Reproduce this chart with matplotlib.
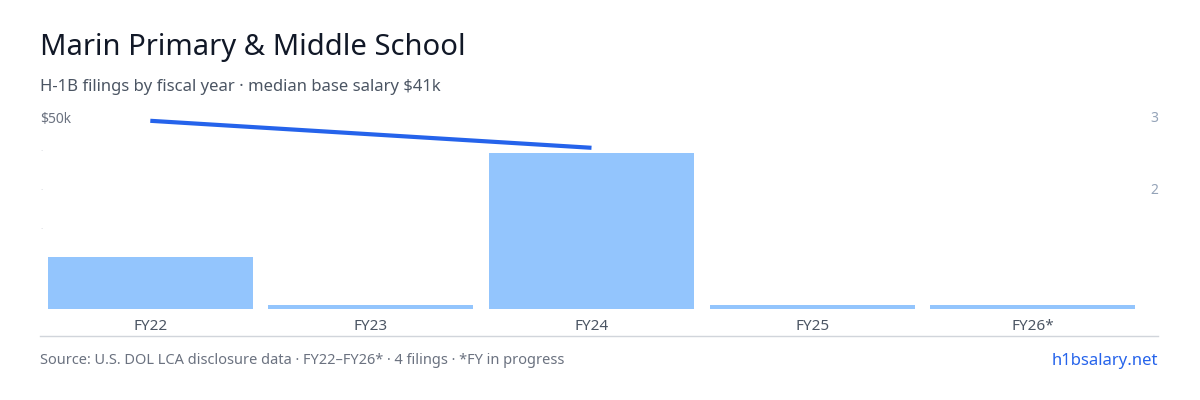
import matplotlib
matplotlib.use("Agg")
import matplotlib.pyplot as plt

years = ["FY22", "FY23", "FY24", "FY25", "FY26*"]
filings = [1, 0, 3, 0, 0]
salary_x = ["FY22", "FY24"]
salary_k = [49.5, 42.0]

W, H = 1200, 400
fig = plt.figure(figsize=(12, 4), dpi=100)
plt.rcParams['font.family'] = ['Noto Sans', 'DejaVu Sans']

def fx(px): return px / W
def fy(py): return 1 - py / H

# bar axes: 0 at y=309, 52 px per filing
top_px = 100
ax = fig.add_axes([fx(40), fy(309), fx(1143 - 40), (309 - top_px) / H])
ymax = (309 - top_px) / 52
xs = list(range(len(years)))
vals = [v if v > 0 else 0.08 for v in filings]
ax.bar(xs, vals, width=0.93, color="#93c5fd")
ax.set_xlim(-0.5 + 0.0, len(years) - 0.5)
ax.set_ylim(0, ymax)
for s in ax.spines.values():
    s.set_visible(False)
ax.set_xticks([])
ax.set_yticks([])

# salary line on twin axis
ax2 = ax.twinx()
ax2.set_ylim(50 - (119 - top_px) / 3.6 - 0, 50 + (119 - top_px) / 3.6)
lo = 50 - (309 - 119) / 3.6
hi = 50 + (119 - top_px) / 3.6
ax2.set_ylim(lo, hi)
ax2.plot([years.index(s) for s in salary_x], salary_k, color="#2563eb", lw=3, solid_capstyle="butt")
ax2.axis("off")

# left tick labels
fig.text(fx(40), fy(119), "$50k", fontsize=10, color="#6b7280", va="center")
for py in (152, 191, 230):
    fig.text(fx(40), fy(py), "·", fontsize=6, color="#c0c4cc", va="center")
fig.text(fx(1158), fy(119), "3", fontsize=10, color="#94a3b8", va="center", ha="right")
fig.text(fx(1158), fy(191), "2", fontsize=10, color="#94a3b8", va="center", ha="right")

# x labels
for i, y in enumerate(years):
    px = 40 + (i + 0.5) * (1143 - 40) / len(years)
    fig.text(fx(px), fy(326), y, fontsize=11, color="#4b5563", ha="center", va="center")
fig.add_artist(plt.Line2D([fx(40), fx(1158)], [fy(336), fy(336)], color="#d1d5db", lw=1))

fig.text(fx(40), fy(47), "Marin Primary & Middle School", fontsize=21, color="#111827", va="center")
fig.text(fx(40), fy(87), "H-1B filings by fiscal year · median base salary $41k", fontsize=12, color="#4b5563", va="center")
fig.text(fx(40), fy(361), "Source: U.S. DOL LCA disclosure data · FY22–FY26* · 4 filings · *FY in progress",
         fontsize=10.5, color="#6b7280", va="center")
fig.text(fx(1158), fy(361), "h1bsalary.net", fontsize=12, color="#2563eb", va="center", ha="right")

fig.savefig("out.png", dpi=100, facecolor="white")
